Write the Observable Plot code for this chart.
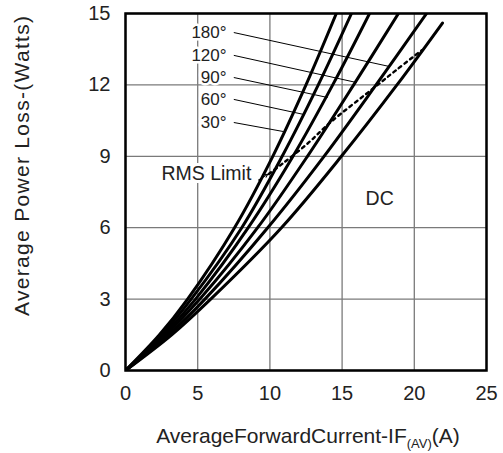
<!DOCTYPE html>
<html><head><meta charset="utf-8">
<script src="https://cdn.jsdelivr.net/npm/d3@7"></script>
<script src="https://cdn.jsdelivr.net/npm/@observablehq/plot@0.6"></script>
<style>body{margin:0;background:#fff}</style>
</head><body><div id="chart"></div>
<script>
// Power loss levels (W) at which each curve's current (A) was read
const powerLevels = [0, 1.5, 3, 6, 9, 12, 15];
const current30  = [0, 2.35, 4.3, 7.55, 10.2, 12.5, 14.6];
const current60  = [0, 2.5, 4.55, 8.05, 10.85, 13.35, 15.65];
const current90  = [0, 2.65, 4.85, 8.5, 11.6, 14.35, 16.9];
const current120 = [0, 2.8, 5.15, 9.15, 12.6, 15.8, 18.9];
const current180 = [0, 3.0, 5.5, 9.85, 13.75, 17.35, 20.85];
const powerDC    = [0, 1.5, 3, 6, 9, 12, 14.6];
const currentDC  = [0, 3.2, 5.9, 10.8, 14.95, 18.8, 21.95];
// RMS limit (dotted)
const rmsCurrent = [9.92, 10.85, 12.58, 14.2, 17.4, 18.7, 20.5];
const rmsPower   = [8.26, 8.68, 9.52, 10.43, 11.97, 12.6, 13.45];
// Conduction-angle labels and leader lines
const labelText  = ["180°", "120°", "90°", "60°", "30°"];
const labelY     = [14.2, 13.24, 12.31, 11.39, 10.42];
const leaderStartX = 7.5;
const labelX = 7.0;
const leaderEndX = [18.3, 16.0, 14.0, 12.33, 10.94];
const leaderEndY = [12.77, 12.1, 11.47, 10.76, 10.04];
const xTicks = [0, 5, 10, 15, 20, 25];
const yTicks = [0, 3, 6, 9, 12, 15];

const series = [
  ["30°", current30, powerLevels],
  ["60°", current60, powerLevels],
  ["90°", current90, powerLevels],
  ["120°", current120, powerLevels],
  ["180°", current180, powerLevels],
  ["DC", currentDC, powerDC]
];
const curveData = series.flatMap(([name, xs, ys]) => xs.map((x, i) => ({name, x, y: ys[i]})));
const rmsData = rmsCurrent.map((x, i) => ({x, y: rmsPower[i]}));
const labels = labelText.map((t, i) => ({t, y: labelY[i], x2: leaderEndX[i], y2: leaderEndY[i]}));

const font = "'Liberation Sans', Arial, Helvetica, sans-serif";
const plot = Plot.plot({
  width: 503, height: 453,
  marginLeft: 125, marginRight: 17, marginTop: 13, marginBottom: 83,
  style: {fontFamily: font, color: "#222", background: "#fff"},
  x: {domain: [0, 25]},
  y: {domain: [0, 15]},
  marks: [
    Plot.gridX(xTicks, {stroke: "#7a7a7a", strokeOpacity: 1, strokeWidth: 1.3}),
    Plot.gridY(yTicks, {stroke: "#7a7a7a", strokeOpacity: 1, strokeWidth: 1.3}),
    Plot.axisX(xTicks, {tickSize: 0, tickPadding: 15, fontSize: 20, label: null, fill: "#222"}),
    Plot.axisY(yTicks, {tickSize: 0, tickPadding: 15, fontSize: 20, label: null, fill: "#222"}),
    Plot.link(labels, {x1: leaderStartX, y1: "y", x2: "x2", y2: "y2", stroke: "#000", strokeWidth: 1}),
    Plot.text(labels, {x: labelX, y: "y", text: "t", textAnchor: "end", fontSize: 17, fill: "#222", stroke: "white", strokeWidth: 5}),
    Plot.text(["RMS Limit"], {x: 5.6, y: 8.27, text: d => d, fontSize: 19.5, fill: "#222", stroke: "white", strokeWidth: 6}),
    Plot.text(["DC"], {x: 17.6, y: 7.2, text: d => d, fontSize: 19.5, fill: "#222"}),
    Plot.line(rmsData, {x: "x", y: "y", curve: "catmull-rom", stroke: "#000", strokeWidth: 2.4, strokeDasharray: "3,4"}),
    Plot.arrow([0], {x1: 9.2, y1: 8.0, x2: 9.85, y2: 8.24, stroke: "#000", strokeWidth: 1, headLength: 5}),
    Plot.line(curveData, {x: "x", y: "y", z: "name", curve: "catmull-rom", stroke: "#000", strokeWidth: 3, clip: true}),
    Plot.frame({stroke: "#000", strokeWidth: 2.5})
  ]
});
document.getElementById("chart").appendChild(plot);

const svg = d3.select(plot);
const xl = svg.append("text")
  .attr("x", 308).attr("y", 443)
  .attr("text-anchor", "middle")
  .attr("font-family", font).attr("font-size", 21).attr("fill", "#222");
xl.append("tspan").text("AverageForwardCurrent-IF");
xl.append("tspan").attr("font-size", 13).attr("dy", 5).text("(AV)");
xl.append("tspan").attr("font-size", 21).attr("dy", -5).text("(A)");
svg.append("text")
  .attr("transform", "translate(29,166) rotate(-90)")
  .attr("text-anchor", "middle")
  .attr("font-family", font).attr("font-size", 21).attr("fill", "#222")
  .attr("textLength", 300).attr("lengthAdjust", "spacing")
  .text("Average Power Loss-(Watts)");
</script>
</body></html>
